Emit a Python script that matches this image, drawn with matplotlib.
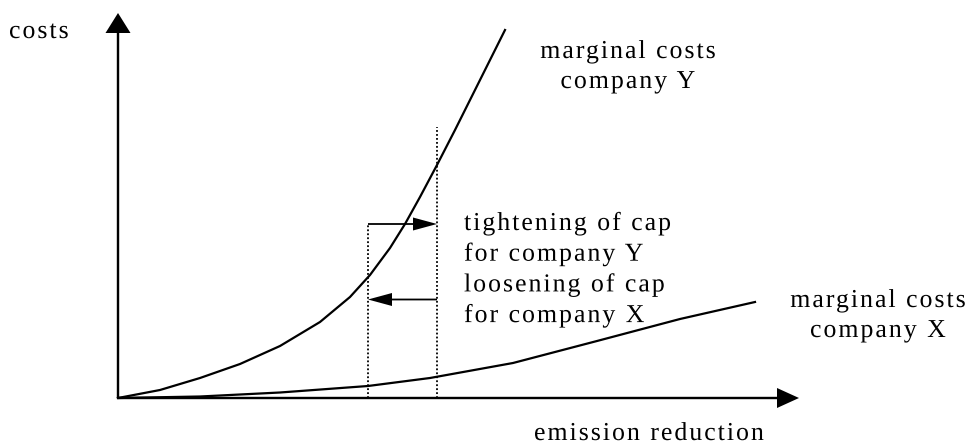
import numpy as np
import matplotlib
matplotlib.use("Agg")
import matplotlib.pyplot as plt
from matplotlib.font_manager import FontProperties
from matplotlib.patheffects import AbstractPathEffect
from matplotlib.path import Path
from matplotlib.textpath import text_to_path

# diagram units: origin at the corner of the axes, 1 unit = 1 pixel
mc_y_x = [0, 42, 82, 122, 162, 202, 232, 252, 272, 287, 302, 319, 337, 352, 367, 387]
mc_y_y = [0, 8, 20, 34, 52, 76, 101, 123, 150, 174, 201, 233, 268, 298, 328, 368]
mc_x_x = [0, 82, 162, 250, 312, 395, 479, 562, 637]
mc_x_y = [0, 1.5, 5.5, 12, 20, 35, 57, 79, 96]

cap_old = 250   # reduction before the trade
cap_new = 319   # reduction after the trade

cap_text = ["tightening of cap", "for company Y", "loosening of cap", "for company X"]


class Tracking(AbstractPathEffect):
    # draws a one-line text with extra space between the letters (in pixels)
    def __init__(self, text, prop, gap, ha="left"):
        super().__init__()
        self.text, self.prop, self.gap, self.ha = text, prop, gap, ha

    def draw_path(self, renderer, gc, tpath, affine, rgbFace=None):
        font = text_to_path._get_font(self.prop)
        glyphs, glyph_map, _ = text_to_path.get_glyphs_with_font(font, self.text)
        step = self.gap / affine.get_matrix()[0, 0]
        shift = {"left": 0, "center": 0.5, "right": 1}[self.ha] * step * (len(glyphs) - 1)
        verts, codes = [], []
        for i, (gid, xp, yp, sc) in enumerate(glyphs):
            v, c = glyph_map[gid]
            if len(v):
                verts.append(np.asarray(v) * sc + [xp + i * step - shift, yp])
                codes.append(np.asarray(c))
        path = Path(np.concatenate(verts), np.concatenate(codes))
        renderer.draw_path(gc, path, affine, rgbFace)


prop = FontProperties(family="Liberation Serif", size=18.6)
GAP = 2.0

fig = plt.figure(figsize=(9.7, 4.44), dpi=100)
ax = fig.add_axes([0, 0, 1, 1])
ax.set_xlim(-118, 852)
ax.set_ylim(-46, 398)
ax.axis("off")


def label(x, y, s, ha="left"):
    ax.text(x, y, s, fontproperties=prop, ha=ha, va="baseline",
            path_effects=[Tracking(s, prop, GAP, ha)])


# axes with arrow heads
ax.arrow(0, 0, 0, 385, width=2.4, head_width=25, head_length=20,
         length_includes_head=True, fc="black", ec="none")
ax.arrow(0, 0, 681, 0, width=2.4, head_width=20, head_length=22,
         length_includes_head=True, fc="black", ec="none")

# marginal cost curves
ax.plot(mc_y_x, mc_y_y, color="black", lw=1.6, solid_joinstyle="round")
ax.plot(mc_x_x, mc_x_y, color="black", lw=1.6, solid_joinstyle="round")

# caps
ax.plot([cap_old, cap_old], [0, 174], color="black", lw=1.3, ls=(0, (1, 1.2)))
ax.plot([cap_new, cap_new], [0, 271], color="black", lw=1.3, ls=(0, (1, 1.2)))
ax.arrow(cap_old, 174, cap_new - cap_old, 0, width=1.8, head_width=13, head_length=24,
         length_includes_head=True, fc="black", ec="none")
ax.arrow(cap_new, 98.5, cap_old - cap_new, 0, width=1.8, head_width=13, head_length=24,
         length_includes_head=True, fc="black", ec="none")

# texts
label(-109, 360, "costs")
label(510, 340, "marginal costs", ha="center")
label(510, 310, "company Y", ha="center")
for i, s in enumerate(cap_text):
    label(346, 168 - 30.7 * i, s)
label(760, 91, "marginal costs", ha="center")
label(760, 61, "company X", ha="center")
label(531, -42, "emission reduction", ha="center")

fig.savefig("out.png", dpi=100)
